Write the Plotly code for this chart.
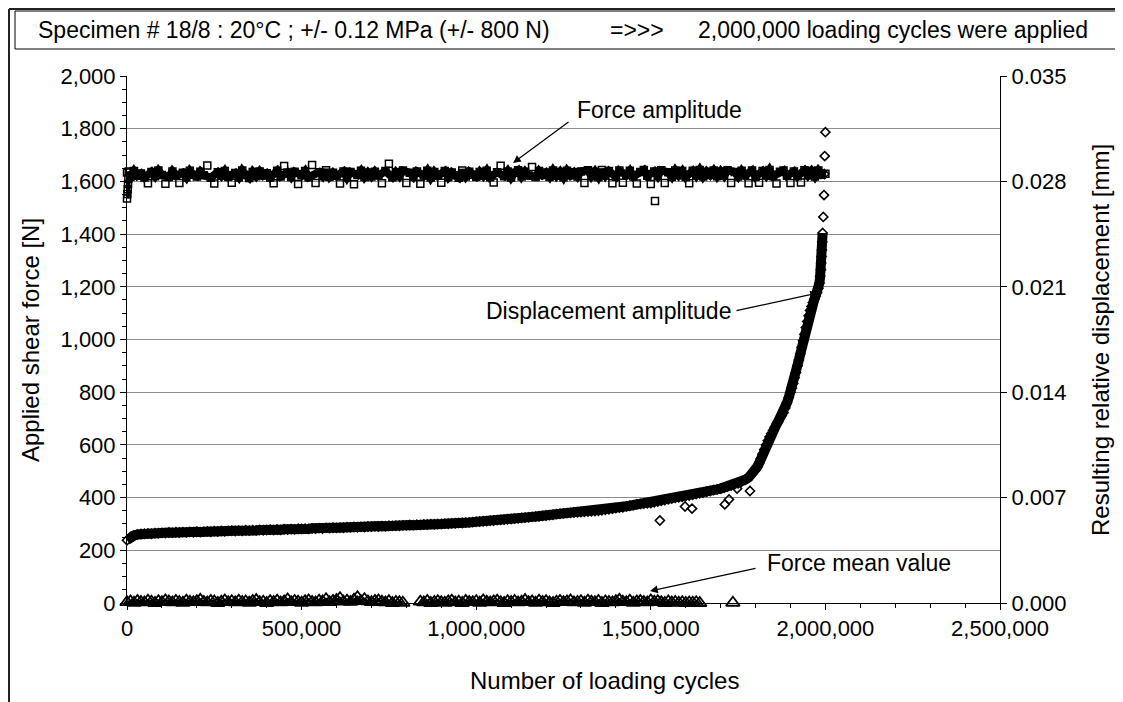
import plotly.graph_objects as go

# ---------------- data ----------------
# sampling grid of recorded cycles (thousands of cycles)
cycles_k = [
    0, 10, 20, 30, 40, 50, 60, 70, 80, 90,
    100, 110, 120, 130, 140, 150, 160, 170, 180, 190,
    200, 210, 220, 230, 240, 250, 260, 270, 280, 290,
    300, 310, 320, 330, 340, 350, 360, 370, 380, 390,
    400, 410, 420, 430, 440, 450, 460, 470, 480, 490,
    500, 510, 520, 530, 540, 550, 560, 570, 580, 590,
    600, 610, 620, 630, 640, 650, 660, 670, 680, 690,
    700, 710, 720, 730, 740, 750, 760, 770, 780, 790,
    800, 810, 820, 830, 840, 850, 860, 870, 880, 890,
    900, 910, 920, 930, 940, 950, 960, 970, 980, 990,
    1000, 1010, 1020, 1030, 1040, 1050, 1060, 1070, 1080, 1090,
    1100, 1110, 1120, 1130, 1140, 1150, 1160, 1170, 1180, 1190,
    1200, 1210, 1220, 1230, 1240, 1250, 1260, 1270, 1280, 1290,
    1300, 1310, 1320, 1330, 1340, 1350, 1360, 1370, 1380, 1390,
    1400, 1410, 1420, 1430, 1440, 1450, 1460, 1470, 1480, 1490,
    1500, 1510, 1520, 1530, 1540, 1550, 1560, 1570, 1580, 1590,
    1600, 1610, 1620, 1630, 1640, 1650, 1660, 1670, 1680, 1690,
    1700, 1710, 1720, 1730, 1740, 1750, 1760, 1770, 1780, 1790,
    1800, 1810, 1820, 1830, 1840, 1850, 1860, 1870, 1880, 1890,
    1900, 1910, 1920, 1930, 1940, 1950, 1960, 1970, 1980, 1990,
    2000,
]

# Force amplitude [N] on the grid
force_amp_N = [
    1634, 1618, 1639, 1621, 1630, 1615, 1593, 1636, 1620, 1641,
    1624, 1591, 1617, 1638, 1622, 1594, 1633, 1616, 1640, 1625,
    1619, 1637, 1623, 1660, 1614, 1592, 1635, 1621, 1639, 1618,
    1595, 1632, 1616, 1641, 1624, 1613, 1636, 1620, 1638, 1622,
    1631, 1615, 1593, 1640, 1619, 1658, 1634, 1617, 1637, 1590,
    1623, 1639, 1616, 1662, 1594, 1635, 1620, 1642, 1618, 1633,
    1621, 1592, 1638, 1615, 1636, 1589, 1624, 1640, 1617, 1634,
    1619, 1637, 1622, 1593, 1639, 1667, 1616, 1635, 1620, 1641,
    1594, 1633, 1618, 1638, 1591, 1622, 1640, 1615, 1636, 1621,
    1595, 1639, 1617, 1634, 1623, 1614, 1641, 1619, 1637, 1625,
    1618, 1636, 1621, 1640, 1616, 1596, 1635, 1659, 1620, 1638,
    1615, 1633, 1642, 1619, 1637, 1622, 1655, 1617, 1639, 1624,
    1634, 1618, 1641, 1621, 1636, 1616, 1640, 1623, 1635, 1619,
    1638, 1594, 1642, 1620, 1637, 1617, 1643, 1622, 1639, 1593,
    1618, 1641, 1595, 1624, 1640, 1619, 1592, 1636, 1643, 1621,
    1590, 1638, 1620, 1642, 1594, 1635, 1618, 1641, 1623, 1639,
    1617, 1593, 1640, 1622, 1643, 1619, 1637, 1624, 1641, 1620,
    1638, 1621, 1642, 1594, 1636, 1619, 1640, 1623, 1593, 1641,
    1618, 1595, 1639, 1622, 1643, 1620, 1592, 1637, 1641, 1621,
    1594, 1638, 1620, 1596, 1642, 1623, 1639, 1619, 1641, 1625,
    1629,
]
force_amp_early_k = [0, 1, 2, 3, 4, 5]
force_amp_early_N = [1535, 1552, 1570, 1590, 1610, 1638]
force_amp_out_k = [1512]
force_amp_out_N = [1526]

# Force mean value [N]: grid 0..790 k and 840..1640 k, plus one late point
force_mean_a_N = [
    3, 6, 1, 8, 4, 2, 9, 5, 0, 7,
    3, 10, 6, 2, 8, 4, 1, 9, 5, 3,
    7, 12, 4, 2, 8, 6, 0, 5, 10, 3,
    7, 2, 9, 4, 6, 1, 8, 11, 3, 5,
    0, 7, 4, 9, 2, 6, 13, 3, 8, 5,
    1, 7, 10, 4, 2, 9, 6, 14, 3, 8,
    11, 18, 5, 9, 4, 12, 22, 7, 14, 6,
    3, 8, 10, 5, 2, 7, 0, 4, 3, 1,
]
force_mean_b_N = [
    5, 2, 8, 0, 4, 7, 3, 1, 6, 9,
    2, 5, 0, 8, 4, 3, 7, 1, 10, 5,
    2, 6, 9, 3, 0, 7, 4, 8, 2, 5,
    11, 3, 6, 1, 9, 4, 7, 2, 0, 5,
    8, 3, 6, 10, 2, 4, 7, 1, 9, 5,
    3, 8, 0, 6, 4, 2, 7, 12, 5, 3,
    9, 1, 6, 8, 4, 2, 10, 5, 7, 3,
    0, 6, 2, 4, 1, 3, 0, 2, 1, 3,
    0,
]
force_mean_last_k = [1735]
force_mean_last_N = [1]

# Displacement amplitude [micrometre] on grid 0..1800 k
disp_um = [
    4.17, 4.38, 4.48, 4.55, 4.58, 4.60, 4.62, 4.60, 4.64, 4.63,
    4.66, 4.64, 4.68, 4.67, 4.70, 4.68, 4.71, 4.69, 4.72, 4.70,
    4.73, 4.71, 4.74, 4.76, 4.73, 4.77, 4.75, 4.78, 4.76, 4.79,
    4.80, 4.78, 4.81, 4.79, 4.83, 4.81, 4.84, 4.82, 4.85, 4.83,
    4.85, 4.87, 4.84, 4.88, 4.86, 4.90, 4.88, 4.91, 4.89, 4.93,
    4.92, 4.94, 4.92, 4.96, 4.94, 4.97, 4.95, 4.99, 4.97, 5.00,
    4.99, 5.01, 5.00, 5.03, 5.02, 5.05, 5.03, 5.06, 5.05, 5.08,
    5.07, 5.09, 5.08, 5.11, 5.10, 5.13, 5.12, 5.14, 5.13, 5.16,
    5.16, 5.18, 5.17, 5.20, 5.19, 5.22, 5.21, 5.24, 5.23, 5.25,
    5.25, 5.27, 5.26, 5.29, 5.30, 5.32, 5.31, 5.34, 5.35, 5.37,
    5.40, 5.41, 5.43, 5.44, 5.47, 5.48, 5.50, 5.52, 5.54, 5.56,
    5.58, 5.60, 5.62, 5.65, 5.67, 5.69, 5.72, 5.74, 5.76, 5.79,
    5.81, 5.84, 5.86, 5.90, 5.93, 5.95, 5.97, 5.99, 6.01, 6.03,
    6.04, 6.06, 6.07, 6.09, 6.10, 6.13, 6.16, 6.19, 6.22, 6.26,
    6.30, 6.33, 6.36, 6.42, 6.46, 6.50, 6.55, 6.58, 6.60, 6.62,
    6.63, 6.68, 6.73, 6.78, 6.83, 6.88, 6.93, 6.98, 7.02, 7.05,
    7.10, 7.14, 7.19, 7.24, 7.29, 7.34, 7.39, 7.44, 7.50, 7.55,
    7.60, 7.66, 7.73, 7.80, 7.88, 7.95, 8.05, 8.18, 8.33, 8.55,
    8.84,
]
disp_late_k = [
    1805, 1810, 1815, 1820, 1825, 1830, 1835, 1840, 1845, 1850,
    1855, 1860, 1865, 1870, 1875, 1880, 1885, 1890, 1895, 1900,
    1904, 1908, 1912, 1916, 1920, 1924, 1928, 1932, 1936, 1940,
    1944, 1948, 1952, 1956, 1960, 1964, 1968, 1972, 1976, 1980,
    1983, 1985, 1987, 1988, 1989, 1990, 1991, 1992, 1994, 1996,
    1997, 1998, 2000,
]
disp_late_um = [
    9.05, 9.28, 9.58, 9.89, 10.20, 10.50, 10.78, 11.03, 11.25, 11.46,
    11.67, 11.87, 12.06, 12.25, 12.44, 12.64, 12.95, 13.30, 13.65, 14.00,
    14.26, 14.60, 14.96, 15.31, 15.75, 16.14, 16.54, 16.98, 17.41, 17.85,
    18.29, 18.69, 19.08, 19.43, 19.69, 19.95, 20.16, 20.39, 20.62, 20.91,
    21.26, 21.70, 22.14, 22.58, 23.01, 23.45, 23.98, 24.57, 25.64, 27.09,
    28.49, 29.68, 31.27,
]
disp_out_k = [1526, 1598, 1618, 1712, 1724, 1747, 1784]
disp_out_um = [5.48, 6.41, 6.27, 6.55, 6.88, 7.60, 7.44]

y2_ticks = [0.000, 0.007, 0.014, 0.021, 0.028, 0.035]

# ---------------- build traces ----------------
fa_pairs = list(zip(force_amp_early_k, force_amp_early_N)) + list(zip(cycles_k, force_amp_N)) \
    + list(zip(force_amp_out_k, force_amp_out_N))
fa_x = [k * 1000 for k, _ in fa_pairs]
fa_y = [v for _, v in fa_pairs]
# dense band (the many overlapping samples) -> drawn as a thick stroke
band_fa = [(k, v) for k, v in zip(cycles_k, force_amp_N) if abs(v - 1628) <= 16]
early_fa = list(zip(force_amp_early_k, force_amp_early_N))

fm_a = list(zip(cycles_k[0:80], force_mean_a_N))
fm_b = list(zip(cycles_k[84:165], force_mean_b_N))
fm_pairs = fm_a + fm_b + list(zip(force_mean_last_k, force_mean_last_N))
fm_x = [k * 1000 for k, _ in fm_pairs]
fm_y = [v for _, v in fm_pairs]
fm_band_x = [k * 1000 for k, _ in fm_a] + [None] + [k * 1000 for k, _ in fm_b]
fm_band_y = [v for _, v in fm_a] + [None] + [v for _, v in fm_b]

d_main = list(zip(cycles_k[0:181], disp_um)) + list(zip(disp_late_k, disp_late_um))
d_pairs = d_main + list(zip(disp_out_k, disp_out_um))
d_x = [k * 1000 for k, _ in d_pairs]
d_y = [v / 1000.0 for _, v in d_pairs]   # mm
band_d = [(k, v) for k, v in d_main if v <= 24.6]

FONT = 'Arial, "Liberation Sans", sans-serif'
CLEAR = 'rgba(255,255,255,0)'

fig = go.Figure()
fig.add_trace(go.Scatter(
    x=[k * 1000 for k, _ in band_fa], y=[v for _, v in band_fa], mode='lines',
    line=dict(color='black', width=8), hoverinfo='skip', cliponaxis=False))
fig.add_trace(go.Scatter(
    x=[k * 1000 for k, _ in early_fa], y=[v for _, v in early_fa], mode='lines',
    line=dict(color='black', width=5), hoverinfo='skip', cliponaxis=False))
fig.add_trace(go.Scatter(
    x=fa_x, y=fa_y, mode='markers', name='Force amplitude', cliponaxis=False,
    marker=dict(symbol='square', size=7, color=CLEAR, line=dict(color='black', width=1.5))))
fig.add_trace(go.Scatter(
    x=[k * 1000 for k, _ in band_d], y=[v / 1000.0 for _, v in band_d], mode='lines', yaxis='y2',
    line=dict(color='black', width=10), hoverinfo='skip', cliponaxis=False))
fig.add_trace(go.Scatter(
    x=d_x, y=d_y, mode='markers', name='Displacement amplitude', yaxis='y2', cliponaxis=False,
    marker=dict(symbol='diamond', size=7, color=CLEAR, line=dict(color='black', width=1.6))))
fig.add_trace(go.Scatter(
    x=fm_band_x, y=fm_band_y, mode='lines', connectgaps=False,
    line=dict(color='black', width=3), hoverinfo='skip', cliponaxis=False))
fig.add_trace(go.Scatter(
    x=fm_x, y=fm_y, mode='markers', name='Force mean value', cliponaxis=False,
    marker=dict(symbol='triangle-up', size=12, color=CLEAR, line=dict(color='black', width=1.8))))

# page offset of the plot (browser body margin is 8 px)
OFF = 8
FW, FH = 1123 - OFF, 702 - OFF
L, R, T, B = 127, 1000, 76, 603          # plot area in page pixels
W, H = R - L, B - T


def px_x(p):
    return (p - L) / W


def px_y(p):
    return (B - p) / H


fig.update_layout(
    width=FW, height=FH,
    margin=dict(l=L - OFF, r=FW - (R - OFF), t=T - OFF, b=FH - (B - OFF), pad=0),
    plot_bgcolor='white', paper_bgcolor='white',
    showlegend=False,
    font=dict(family=FONT, size=22, color='black'),
    xaxis=dict(
        range=[0, 2500000], tick0=0, dtick=500000, tickformat=',d',
        showline=True, linecolor='black', linewidth=1,
        ticks='outside', ticklen=6, tickcolor='black', tickwidth=1,
        showgrid=False, zeroline=False,
        minor=dict(dtick=100000, ticks='outside', ticklen=4, tickcolor='black', showgrid=False),
        tickfont=dict(size=22),
    ),
    yaxis=dict(
        range=[0, 2000], tick0=0, dtick=200, tickformat=',d',
        showline=True, linecolor='black', linewidth=1,
        ticks='outside', ticklen=6, tickcolor='black',
        showgrid=True, gridcolor='#8c8c8c', gridwidth=1, zeroline=False,
        minor=dict(dtick=50, ticks='outside', ticklen=4, tickcolor='black', showgrid=False),
        tickfont=dict(size=22),
    ),
    yaxis2=dict(
        overlaying='y', side='right', anchor='x',
        range=[0, 0.035], tickmode='array', tickvals=y2_ticks,
        ticktext=['%.3f' % v for v in y2_ticks],
        showline=True, linecolor='black', linewidth=1,
        ticks='outside', ticklen=6, tickcolor='black',
        showgrid=False, zeroline=False,
        tickfont=dict(size=22),
    ),
)

shapes = [
    dict(type='rect', xref='paper', yref='paper', x0=px_x(15), x1=px_x(1116),
         y0=px_y(49), y1=px_y(11), line=dict(color='black', width=1), fillcolor='white'),
    dict(type='line', xref='paper', yref='paper', x0=px_x(9), x1=px_x(1123),
         y0=px_y(9), y1=px_y(9), line=dict(color='#222', width=2)),
    dict(type='line', xref='paper', yref='paper', x0=px_x(9), x1=px_x(9),
         y0=px_y(9), y1=px_y(702), line=dict(color='#222', width=2)),
]
fig.update_layout(shapes=shapes)

ann = []


def text_ann(txt, x, y, xanchor='center', angle=0, size=23):
    ann.append(dict(text=txt, x=px_x(x), y=px_y(y), xref='paper', yref='paper',
                    xanchor=xanchor, yanchor='middle', showarrow=False, textangle=angle,
                    font=dict(family=FONT, size=size, color='black')))


def arrow_ann(tip, tail):
    ann.append(dict(text='', x=px_x(tip[0]), y=px_y(tip[1]), xref='paper', yref='paper',
                    ax=tail[0] - tip[0], ay=tail[1] - tip[1], showarrow=True,
                    arrowhead=2, arrowsize=1.3, arrowwidth=1.2, arrowcolor='black',
                    standoff=0, startstandoff=0))


text_ann('Specimen # 18/8 : 20°C ; +/- 0.12 MPa (+/- 800 N)', 36, 30, 'left')
text_ann('=>>>', 637, 30, 'center')
text_ann('2,000,000 loading cycles were applied', 1090, 30, 'right')

text_ann('Force amplitude', 575, 110, 'left')
text_ann('Displacement amplitude', 733, 311, 'right')
text_ann('Force mean value', 765, 563, 'left')

text_ann('Applied shear force [N]', 30, 340, 'center', -90, 24)
text_ann('Resulting relative displacement [mm]', 1100, 340, 'center', -90, 24)
text_ann('Number of loading cycles', 604, 680, 'center', 0, 24)

arrow_ann((513, 163), (570, 121))
arrow_ann((818, 293), (735, 311))
arrow_ann((650, 591), (757, 568))

fig.update_layout(annotations=ann)

fig.write_html('out.html')
